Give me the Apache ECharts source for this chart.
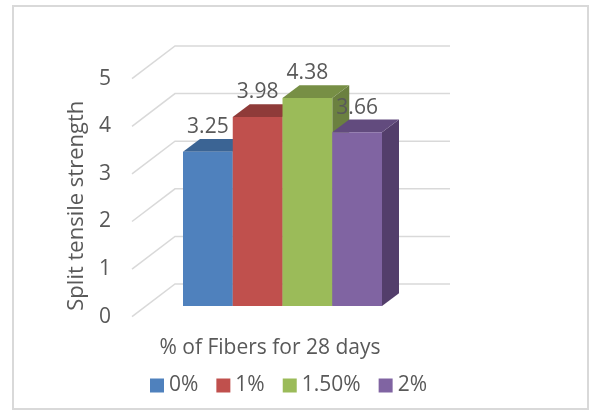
<!DOCTYPE html>
<html>
<head>
<meta charset="utf-8">
<script src="https://cdn.jsdelivr.net/npm/echarts@6/dist/echarts.min.js"></script>
<style>
  html, body { margin: 0; padding: 0; background: #fff; }
  #chart { width: 589px; height: 410px; }
</style>
</head>
<body>
<div id="chart"></div>
<script>
const categories = ['0%', '1%', '1.50%', '2%'];
const strength = [3.25, 3.98, 4.38, 3.66];
const yTicks = [0, 1, 2, 3, 4, 5];
const frontColors = ['#4f81bd', '#c0504d', '#9bbb59', '#8064a2'];
const topColors = ['#3b6494', '#8f3b39', '#778f45', '#624b7e'];
const sideColors = ['#2f5078', '#7a3230', '#6b8040', '#533e6b'];

const textColor = '#595959';
const fontFamily = '"Open Sans", sans-serif';
// oblique offset of the fake 3d depth
const barDepth = { x: 17, y: -12.7 };
const wallDepth = { x: 43, y: -32.7 };

const chart = echarts.init(document.getElementById('chart'));

function renderBar(index) {
  return function (params, api) {
    const top = api.coord([api.value(0), api.value(1)]);
    const base = api.coord([api.value(0), 0]);
    const w = api.size([1, 0])[0];
    const l = top[0] - w / 2;
    const r = top[0] + w / 2;
    const dx = barDepth.x;
    const dy = barDepth.y;
    return {
      type: 'group',
      children: [
        {
          type: 'polygon',
          shape: { points: [[r, top[1]], [r + dx, top[1] + dy], [r + dx, base[1] + dy], [r, base[1]]] },
          style: { fill: sideColors[index] },
        },
        {
          type: 'polygon',
          shape: { points: [[l, top[1]], [l + dx, top[1] + dy], [r + dx, top[1] + dy], [r, top[1]]] },
          style: { fill: topColors[index] },
        },
        {
          type: 'rect',
          shape: { x: l, y: top[1], width: w, height: base[1] - top[1] },
          style: { fill: frontColors[index] },
        },
        {
          type: 'text',
          z2: 10,
          style: {
            text: String(strength[index]),
            x: top[0],
            y: top[1] - 24.5,
            align: 'center',
            verticalAlign: 'middle',
            fill: textColor,
            font: '21px ' + fontFamily,
          },
        },
      ],
    };
  };
}

function renderWall(params, api) {
  const p = api.coord([0, api.value(0)]);
  const bx = p[0] + wallDepth.x;
  const by = p[1] + wallDepth.y;
  return {
    type: 'polyline',
    shape: { points: [p, [bx, by], [450, by]] },
    style: { fill: 'none', stroke: '#d9d9d9', lineWidth: 1.5 },
  };
}

const barSeries = categories.map((name, i) => ({
  name,
  type: 'custom',
  xAxisIndex: 0,
  yAxisIndex: 0,
  z: 5 + i,
  itemStyle: { color: frontColors[i] },
  renderItem: renderBar(i),
  data: [[name, strength[i]]],
}));

chart.setOption({
  animation: false,
  backgroundColor: '#fff',
  grid: [
    // plane of the bars front faces
    { left: 183, top: 68.5, width: 199, height: 237.5 },
    // front edge of the side wall, carries the y labels
    { left: 132, top: 78.7, width: 276, height: 238 },
  ],
  xAxis: [
    { gridIndex: 0, type: 'category', data: categories, show: false },
    {
      gridIndex: 1,
      type: 'value',
      min: 0,
      max: 1,
      axisLine: { show: false },
      axisTick: { show: false },
      axisLabel: { show: false },
      splitLine: { show: false },
      name: '% of Fibers for 28 days',
      nameLocation: 'middle',
      nameGap: 21,
      nameTextStyle: { color: textColor, fontSize: 21, fontFamily },
    },
  ],
  yAxis: [
    { gridIndex: 0, type: 'value', min: 0, max: 5, show: false },
    {
      gridIndex: 1,
      type: 'value',
      min: 0,
      max: 5,
      interval: 1,
      axisLine: { show: false },
      axisTick: { show: false },
      splitLine: { show: false },
      axisLabel: {
        color: textColor,
        fontSize: 21,
        fontFamily,
        margin: 21,
        padding: [0, 0, 7, 0],
      },
      name: 'Split tensile strength',
      nameLocation: 'middle',
      nameRotate: 90,
      nameGap: 44,
      nameTextStyle: { color: textColor, fontSize: 22, fontFamily, padding: [0, 16, 0, 0] },
    },
  ],
  legend: {
    left: 145,
    top: 370,
    itemWidth: 14,
    itemHeight: 14,
    itemGap: 18,
    icon: 'rect',
    data: categories,
    textStyle: { color: textColor, fontSize: 21, fontFamily },
  },
  graphic: [
    {
      type: 'rect',
      silent: true,
      shape: { x: 13, y: 6, width: 575, height: 403 },
      style: { fill: 'none', stroke: '#d9d9d9', lineWidth: 2 },
    },
  ],
  series: [
    {
      name: 'walls',
      type: 'custom',
      xAxisIndex: 1,
      yAxisIndex: 1,
      z: 1,
      renderItem: renderWall,
      data: yTicks.map((v) => [v]),
      encode: { y: 0 },
    },
    ...barSeries,
  ],
});
</script>
</body>
</html>
